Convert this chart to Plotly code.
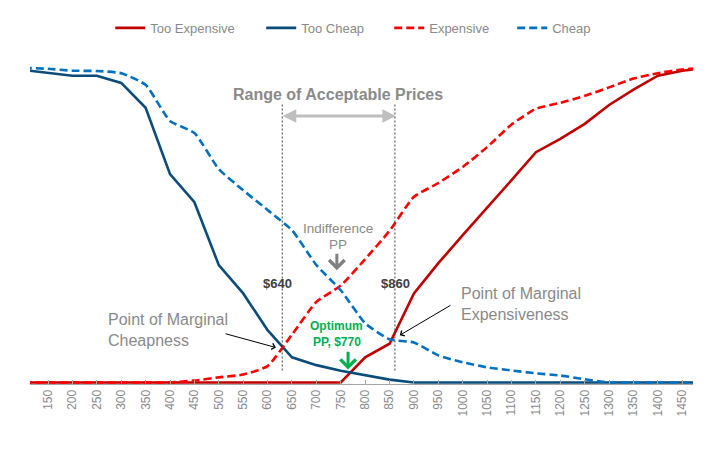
import plotly.graph_objects as go

prices = [100, 150, 200, 250, 300, 350, 400, 450, 500, 550, 600, 650, 700, 750,
          800, 850, 900, 950, 1000, 1050, 1100, 1150, 1200, 1250, 1300, 1350,
          1400, 1450, 1500]

too_expensive = [0, 0, 0, 0, 0, 0, 0, 0, 0, 0, 0, 0, 0, 0,
                 8.0, 12.3, 28.3, 37.9, 46.8, 55.4, 64.3, 73.2, 77.4, 82.2, 88.2, 93.1,
                 97.5, 99.1, 100]
too_cheap = [99.3, 98.4, 97.5, 97.5, 95.2, 87.3, 66.2, 57.3, 37.3, 28.3, 16.6, 8.0, 5.5, 3.7,
             2.2, 0.9, 0, 0, 0, 0, 0, 0, 0, 0, 0, 0,
             0, 0, 0]
expensive = [0, 0, 0, 0, 0, 0, 0, 0.6, 1.6, 2.5, 5.2, 15.2, 25.6, 30.8,
             39.2, 48.2, 59.0, 63.4, 68.5, 74.8, 82.0, 87.0, 88.9, 91.1, 93.8, 96.6,
             98.3, 99.5, 100]
cheap = [100, 99.7, 99.1, 99.0, 98.3, 94.6, 83.1, 79.3, 67.8, 61.1, 54.8, 48.4, 37.3, 29.3,
         18.8, 13.7, 12.7, 8.6, 6.4, 4.8, 3.8, 2.9, 2.2, 1.0, 0, 0,
         0, 0, 0]

tick_values = list(range(150, 1451, 50))
tick_labels = [str(v) for v in tick_values]

FONT = "Liberation Sans, Arial, sans-serif"
GREY = "#8a8a8a"

fig = go.Figure()
fig.add_trace(go.Scatter(x=prices, y=too_expensive, name="Too Expensive", mode="lines",
                         line=dict(color="#C00000", width=2.6), legendwidth=106))
fig.add_trace(go.Scatter(x=prices, y=too_cheap, name="Too Cheap", mode="lines",
                         line=dict(color="#0B4C7A", width=2.6), legendwidth=83))
fig.add_trace(go.Scatter(x=prices, y=expensive, name="Expensive", mode="lines",
                         line=dict(color="#FF0000", width=2.6, dash="8px,4px",
                                   shape="spline", smoothing=0.5), legendwidth=78))
fig.add_trace(go.Scatter(x=prices, y=cheap, name="Cheap", mode="lines",
                         line=dict(color="#0070C0", width=2.6, dash="8px,4px",
                                   shape="spline", smoothing=0.5), legendwidth=40))

shapes = []
for xv in (630, 861):
    shapes.append(dict(type="line", xref="x", yref="y", x0=xv, x1=xv, y0=3.8, y1=88.9,
                       line=dict(color="#404040", width=1, dash="2px,2px")))

annotations = [
    dict(x=745, y=91.4, text="<b>Range of Acceptable Prices</b>", showarrow=False,
         font=dict(size=16, color=GREY, family=FONT)),
    # range arrow
    dict(x=863, y=84.7, ax=628, ay=84.7, xref="x", yref="y", axref="x", ayref="y",
         text="", showarrow=True, arrowside="end+start", arrowhead=2, arrowsize=0.9,
         arrowwidth=3, arrowcolor="#BFBFBF"),
    dict(x=621, y=31.5, text="<b>$640</b>", showarrow=False,
         font=dict(size=13, color="#404040", family=FONT)),
    dict(x=863, y=31.5, text="<b>$860</b>", showarrow=False,
         font=dict(size=13, color="#404040", family=FONT)),
    dict(x=744, y=48.8, text="Indifference", showarrow=False,
         font=dict(size=13.5, color=GREY, family=FONT)),
    dict(x=744, y=44.0, text="PP", showarrow=False,
         font=dict(size=13.5, color=GREY, family=FONT)),
    dict(x=742, y=35.7, ax=742, ay=41.4, xref="x", yref="y", axref="x", ayref="y",
         text="", showarrow=True, arrowhead=4, arrowsize=1, arrowwidth=3,
         arrowcolor="#808080"),
    dict(x=742, y=17.8, text="<b>Optimum</b>", showarrow=False,
         font=dict(size=12, color="#00B050", family=FONT)),
    dict(x=742, y=12.7, text="<b>PP, $770</b>", showarrow=False,
         font=dict(size=12, color="#00B050", family=FONT)),
    dict(x=765, y=4.1, ax=765, ay=10.2, xref="x", yref="y", axref="x", ayref="y",
         text="", showarrow=True, arrowhead=4, arrowsize=1, arrowwidth=3,
         arrowcolor="#00B050"),
    dict(x=269, y=16.6, text="Point of Marginal<br>Cheapness", showarrow=False,
         xanchor="left", align="left", font=dict(size=16, color=GREY, family=FONT)),
    dict(x=617, y=11.1, ax=511, ay=15.6, xref="x", yref="y", axref="x", ayref="y",
         text="", showarrow=True, arrowhead=4, arrowsize=1.2, arrowwidth=1,
         arrowcolor="#000000"),
    dict(x=992, y=25.0, text="Point of Marginal<br>Expensiveness", showarrow=False,
         xanchor="left", align="left", font=dict(size=16, color=GREY, family=FONT)),
    dict(x=871, y=15.0, ax=978, ay=24.8, xref="x", yref="y", axref="x", ayref="y",
         text="", showarrow=True, arrowhead=4, arrowsize=1.2, arrowwidth=1,
         arrowcolor="#000000"),
]

# The page body has an 8px margin, so the figure is 8px smaller and margins shifted.
fig.update_layout(
    width=707, height=447,
    margin=dict(l=22, r=22, t=52, b=71, pad=0, autoexpand=False),
    paper_bgcolor="white", plot_bgcolor="white",
    font=dict(family=FONT, color=GREY),
    showlegend=True,
    legend=dict(orientation="h", x=0.121, xanchor="left", y=1.099, yanchor="middle",
                font=dict(size=13, color=GREY, family=FONT), bgcolor="rgba(0,0,0,0)",
                tracegroupgap=0),
    xaxis=dict(range=[113, 1472], tickmode="array", tickvals=tick_values, ticktext=tick_labels,
               tickangle=-90, ticks="inside", ticklen=4, tickcolor="#a6a6a6", tickwidth=1,
               showline=True, linecolor="#a6a6a6", linewidth=1, showgrid=False, zeroline=False,
               tickfont=dict(size=12, color=GREY, family=FONT)),
    yaxis=dict(range=[-0.5, 102.5], visible=False, showgrid=False, zeroline=False),
    shapes=shapes,
    annotations=annotations,
)

fig.write_html("out.html")
